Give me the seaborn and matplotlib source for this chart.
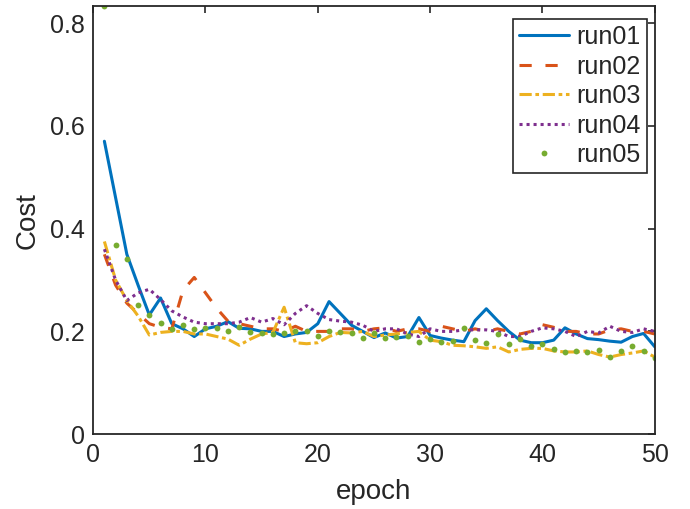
import matplotlib
matplotlib.use("Agg")
import matplotlib.pyplot as plt
import seaborn as sns
import pandas as pd
import numpy as np

epochs = np.arange(1, 51)

run01 = [0.57, 0.46, 0.35, 0.29, 0.232, 0.265, 0.215, 0.205, 0.19, 0.205,
         0.21, 0.219, 0.206, 0.205, 0.2, 0.2, 0.19, 0.195, 0.198, 0.215,
         0.258, 0.235, 0.212, 0.2, 0.188, 0.197, 0.187, 0.19, 0.227, 0.192,
         0.187, 0.183, 0.18, 0.221, 0.244, 0.221, 0.2, 0.183, 0.178, 0.178,
         0.183, 0.207, 0.195, 0.186, 0.184, 0.181, 0.179, 0.19, 0.196, 0.17]
run02 = [0.35, 0.29, 0.255, 0.235, 0.215, 0.208, 0.205, 0.28, 0.305, 0.275,
         0.245, 0.22, 0.215, 0.21, 0.205, 0.205, 0.2, 0.21, 0.2, 0.2,
         0.2, 0.205, 0.205, 0.2, 0.205, 0.207, 0.2, 0.205, 0.205, 0.2,
         0.21, 0.205, 0.2, 0.205, 0.2, 0.205, 0.2, 0.195, 0.2, 0.213,
         0.208, 0.2, 0.2, 0.195, 0.195, 0.203, 0.205, 0.2, 0.2, 0.195]
run03 = [0.375, 0.3, 0.26, 0.23, 0.193, 0.198, 0.2, 0.2, 0.195, 0.195,
         0.19, 0.185, 0.173, 0.185, 0.195, 0.198, 0.247, 0.178, 0.176, 0.178,
         0.19, 0.198, 0.197, 0.2, 0.19, 0.193, 0.195, 0.198, 0.2, 0.183,
         0.18, 0.173, 0.172, 0.17, 0.167, 0.17, 0.16, 0.165, 0.167, 0.167,
         0.162, 0.16, 0.16, 0.162, 0.155, 0.15, 0.155, 0.158, 0.162, 0.15]
run04 = [0.36, 0.3, 0.26, 0.275, 0.282, 0.262, 0.24, 0.228, 0.218, 0.215,
         0.215, 0.215, 0.218, 0.227, 0.218, 0.225, 0.213, 0.235, 0.25, 0.235,
         0.223, 0.22, 0.218, 0.212, 0.2, 0.205, 0.205, 0.195, 0.19, 0.205,
         0.2, 0.2, 0.203, 0.203, 0.203, 0.2, 0.19, 0.19, 0.2, 0.207,
         0.205, 0.2, 0.19, 0.2, 0.197, 0.21, 0.2, 0.198, 0.205, 0.2]
run05 = [0.833, 0.369, 0.34, 0.252, 0.231, 0.216, 0.204, 0.213, 0.204, 0.206,
         0.207, 0.2, 0.209, 0.199, 0.196, 0.195, 0.197, 0.2, 0.201, 0.192,
         0.2, 0.198, 0.197, 0.187, 0.197, 0.187, 0.19, 0.192, 0.18, 0.185,
         0.18, 0.181, 0.207, 0.183, 0.178, 0.194, 0.175, 0.186, 0.171, 0.175,
         0.166, 0.16, 0.161, 0.16, 0.164, 0.15, 0.161, 0.172, 0.162, 0.149]

runs = {"run01": run01, "run02": run02, "run03": run03, "run04": run04, "run05": run05}
colors = {"run01": "#0072BD", "run02": "#D95319", "run03": "#EDB120",
          "run04": "#7E2F8E", "run05": "#77AC30"}
styles = {"run01": "-", "run02": (0, (4, 4.5)), "run03": (0, (4, 1.2, 1.2, 1.2)),
          "run04": (0, (1, 1.3))}

sns.set_theme(style="white")
plt.rcParams["font.family"] = ["Liberation Sans", "DejaVu Sans"]

fig = plt.figure(figsize=(6.9, 5.09), dpi=100)
ax = fig.add_axes([0.135, 0.147, 0.814, 0.841])

for name, vals in runs.items():
    df = pd.DataFrame({"epoch": epochs, "Cost": vals})
    if name == "run05":
        sns.lineplot(data=df, x="epoch", y="Cost", ax=ax, color=colors[name],
                     linestyle="", marker="o", markersize=4.2,
                     markeredgewidth=0, label=name)
    else:
        sns.lineplot(data=df, x="epoch", y="Cost", ax=ax, color=colors[name],
                     linestyle=styles[name], linewidth=2.2, label=name)

ax.set_xlim(0, 50)
ax.set_ylim(0, max(run05))
ax.set_xticks([0, 10, 20, 30, 40, 50])
ax.set_yticks([0, 0.2, 0.4, 0.6, 0.8])
ax.set_yticklabels(["0", "0.2", "0.4", "0.6", "0.8"])
ax.set_xlabel("epoch", fontsize=20, color="#262626", labelpad=9)
ax.set_ylabel("Cost", fontsize=20, color="#262626", labelpad=7)
ax.tick_params(direction="in", top=True, right=True, length=5, width=1.2,
               labelsize=18, colors="#262626", pad=6)
for sp in ax.spines.values():
    sp.set_color("#262626")
    sp.set_linewidth(1.3)

leg = ax.legend(loc="upper right", bbox_to_anchor=(0.986, 0.97), fontsize=18,
                frameon=True, fancybox=False, framealpha=1, edgecolor="#262626",
                borderaxespad=0, handlelength=2.0, handletextpad=0.3,
                labelspacing=0.22, borderpad=0.25)
leg.get_frame().set_linewidth(1.2)

fig.savefig("out.png", dpi=100)
